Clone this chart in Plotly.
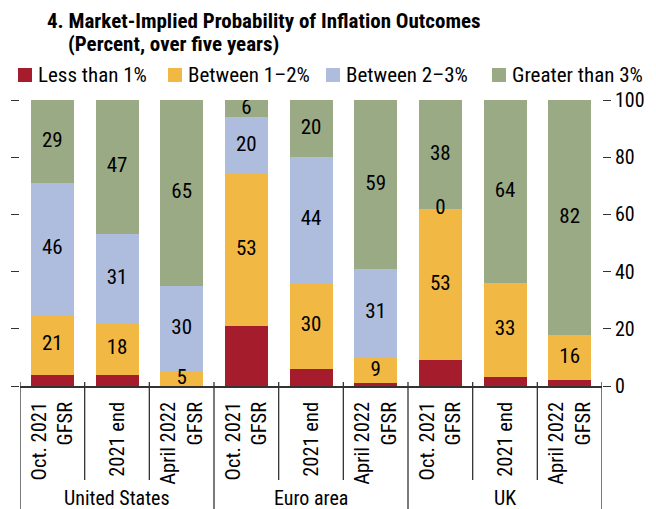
import plotly.graph_objects as go

# ---- data ----
groups = ["United States", "Euro area", "UK"]
periods = ["Oct. 2021<br>GFSR", "2021 end", "April 2022<br>GFSR"]
categories = [p for g in groups for p in periods]
series_names = ["Less than 1%", "Between 1–2%", "Between 2–3%", "Greater than 3%"]
less_1 = [4, 4, 0, 21, 6, 1, 9, 3, 2]
between_1_2 = [21, 18, 5, 53, 30, 9, 53, 33, 16]
between_2_3 = [46, 31, 30, 20, 44, 31, 0, None, None]
greater_3 = [29, 47, 65, 6, 20, 59, 38, 64, 82]
y_ticks = [0, 20, 40, 60, 80, 100]

colors = ["#A51D2D", "#F2B844", "#AEBCDE", "#9AAA85"]
FONT = "Liberation Sans Narrow, Arial Narrow, Roboto Condensed, Roboto, sans-serif"
AX = "#333333"

series = [less_1, between_1_2, between_2_3, greater_3]
xs = list(range(len(categories)))

W, H = 582.0, 286.0   # plot area size in px
L, T = 20.0, 100.0


def px_x(p):
    return (p - L) / W


def px_y(p):
    return (T + H - p) / H


fig = go.Figure()
for name, vals, col in zip(series_names, series, colors):
    fig.add_trace(go.Bar(x=xs, y=[v if v is not None else 0 for v in vals], name=name,
                         marker=dict(color=col, line=dict(width=0)), width=0.665,
                         hoverinfo="skip", showlegend=False))

# labels (not on the red segment)
lx, ly, lt = [], [], []
for i in xs:
    base = 0
    for s_idx, vals in enumerate(series):
        v = vals[i]
        if v is None:
            continue
        if s_idx > 0:
            lx.append(i)
            ly.append(base + v / 2)
            lt.append(str(v))
        base += v
fig.add_trace(go.Scatter(x=lx, y=ly, text=lt, mode="text", yaxis="y2",
                         textfont=dict(size=21, color="black", family=FONT),
                         showlegend=False, hoverinfo="skip"))

# separators
shapes = []
for k in range(len(categories) + 1):
    xb = k - 0.5
    is_group = (k % 3 == 0)
    shapes.append(dict(type="line", xref="x", yref="paper", x0=xb, x1=xb,
                       y0=4 / H, y1=px_y(509) if is_group else px_y(480),
                       line=dict(color=AX, width=1.3)))

annotations = []
for gi, g in enumerate(groups):
    annotations.append(dict(x=gi * 3 + 1, y=px_y(498), xref="x", yref="paper",
                            text=g, showarrow=False, yanchor="middle",
                            font=dict(size=20, color="black", family=FONT)))
annotations.append(dict(x=px_x(45), y=px_y(21), xref="paper", yref="paper",
                        xanchor="left", yanchor="middle", showarrow=False,
                        text="<b>4. Market-Implied Probability of Inflation Outcomes</b>",
                        font=dict(size=21, color="black", family=FONT)))
annotations.append(dict(x=px_x(66), y=px_y(44), xref="paper", yref="paper",
                        xanchor="left", yanchor="middle", showarrow=False,
                        text="<b>(Percent, over five years)</b>",
                        font=dict(size=21, color="black", family=FONT)))

# legend (drawn as squares + texts)
legend_sq_x = [18, 168, 326, 492]
for name, col, sx in zip(series_names, colors, legend_sq_x):
    shapes.append(dict(type="rect", xref="paper", yref="paper",
                       x0=px_x(sx), x1=px_x(sx + 14), y0=px_y(82), y1=px_y(68),
                       fillcolor=col, line=dict(width=0)))
    annotations.append(dict(x=px_x(sx + 18), y=px_y(75), xref="paper", yref="paper",
                            xanchor="left", yanchor="middle", showarrow=False,
                            text=name, font=dict(size=21, color="black", family=FONT)))

fig.update_layout(
    width=656, height=509, autosize=False,
    margin=dict(l=20, r=54, t=100, b=123, autoexpand=False),
    plot_bgcolor="white", paper_bgcolor="white",
    barmode="stack", showlegend=False,
    font=dict(family=FONT, size=20, color="black"),
    xaxis=dict(range=[-0.5, 8.5], tickvals=xs, ticktext=categories, tickangle=-90,
               showgrid=False, zeroline=False, showline=True, linecolor=AX, linewidth=1.5,
               ticks="", ticklabelstandoff=6, automargin=False,
               tickfont=dict(size=20.5, family=FONT)),
    yaxis=dict(range=[0, 100], tickvals=y_ticks, showticklabels=False, ticks="outside",
               ticklen=8, tickwidth=1.3, tickcolor=AX, showgrid=False, zeroline=False,
               showline=False, automargin=False),
    yaxis2=dict(range=[0, 100], tickvals=y_ticks, overlaying="y", side="right",
                ticks="outside", ticklen=8, tickwidth=1.3, tickcolor=AX, showgrid=False,
                zeroline=False, showline=False, automargin=False,
                tickfont=dict(size=20, family=FONT)),
    shapes=shapes, annotations=annotations, bargap=0,
)

fig.write_html("out.html", config={"displayModeBar": False},
               post_script="document.body.style.margin='0';")
